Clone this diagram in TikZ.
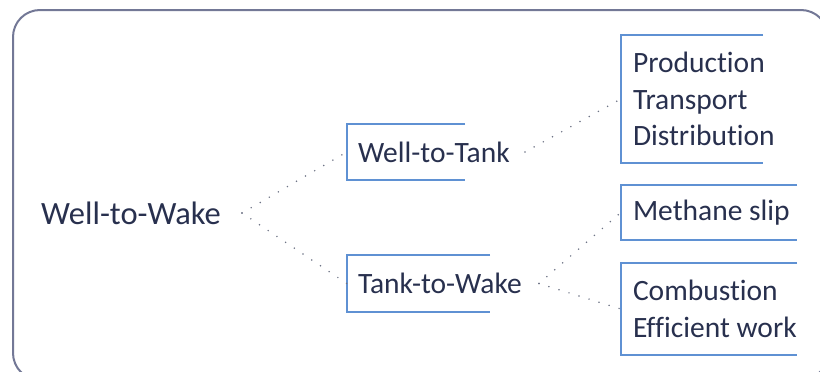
\documentclass[tikz,border=0pt]{standalone}
\usepackage{fontspec}
\setmainfont[Ligatures=NoCommon]{Carlito}
\definecolor{framecol}{HTML}{737896}
\definecolor{bracketcol}{HTML}{5F91D3}
\definecolor{inkcol}{HTML}{28304E}
\definecolor{dotcol}{HTML}{6E7486}
\tikzset{
  frame/.style={draw=framecol, line width=2pt, rounded corners=27pt},
  bracketbox/.style={rectangle, inner sep=0pt},
  bracket/.style={draw=bracketcol, line width=2.2pt},
  lbl/.style={inner sep=0pt, align=left, text=inkcol,
    font=\fontsize{29.5}{36.5}\selectfont},
  rootlbl/.style={lbl, font=\fontsize{32.5}{38}\selectfont},
  conn/.style={draw=dotcol, line width=1.7pt, line cap=round,
    dash pattern=on 0pt off 10.5pt}
}
\begin{document}
\begin{tikzpicture}[x=1pt,y=-1pt]
\useasboundingbox (0,0) rectangle (820,372);
% outer rounded frame, running off the right and bottom edges
\begin{scope}
  \clip (0,0) rectangle (820,372);
  \draw[frame] (13,10) rectangle (828,380);
\end{scope}

% bracket boxes (open on the right)
\node[bracketbox, minimum width=118pt, minimum height=56pt] (wtt) at (406,152) {};
\node[bracketbox, minimum width=143pt, minimum height=57pt] (ttw) at (418.5,283.5) {};
\node[bracketbox, minimum width=142pt, minimum height=128pt] (prod) at (692,99) {};
\node[bracketbox, minimum width=176pt, minimum height=55pt] (slip) at (709,212.5) {};
\node[bracketbox, minimum width=176pt, minimum height=92pt] (comb) at (709,309) {};
\foreach \b in {wtt,ttw,prod,slip,comb}
  \draw[bracket] (\b.north east) -- (\b.north west) -- (\b.south west) -- (\b.south east);

% labels
\node[rootlbl, anchor=west] (wtw) at (41,213) {Well-to-Wake};
\node[lbl, anchor=west] (twtt) at ([xshift=11pt]wtt.west) {Well-to-Tank};
\node[lbl, anchor=west] (tttw) at ([xshift=11pt]ttw.west) {Tank-to-Wake};
\node[lbl, anchor=west] (tprod) at ([xshift=12pt]prod.west) {Production\\Transport\\Distribution};
\node[lbl, anchor=west] (tslip) at ([xshift=12pt]slip.west) {Methane slip};
\node[lbl, anchor=west] (tcomb) at ([xshift=12pt]comb.west) {Combustion\\Efficient work};

% dotted connectors
\draw[conn] ([xshift=21pt]wtw.east) -- (wtt.west);
\draw[conn] ([xshift=21pt]wtw.east) -- (ttw.west);
\draw[conn] ([xshift=15pt]twtt.east) -- (prod.west);
\draw[conn] ([xshift=17pt]tttw.east) -- (slip.west);
\draw[conn] ([xshift=17pt]tttw.east) -- (comb.west);
\end{tikzpicture}
\end{document}
